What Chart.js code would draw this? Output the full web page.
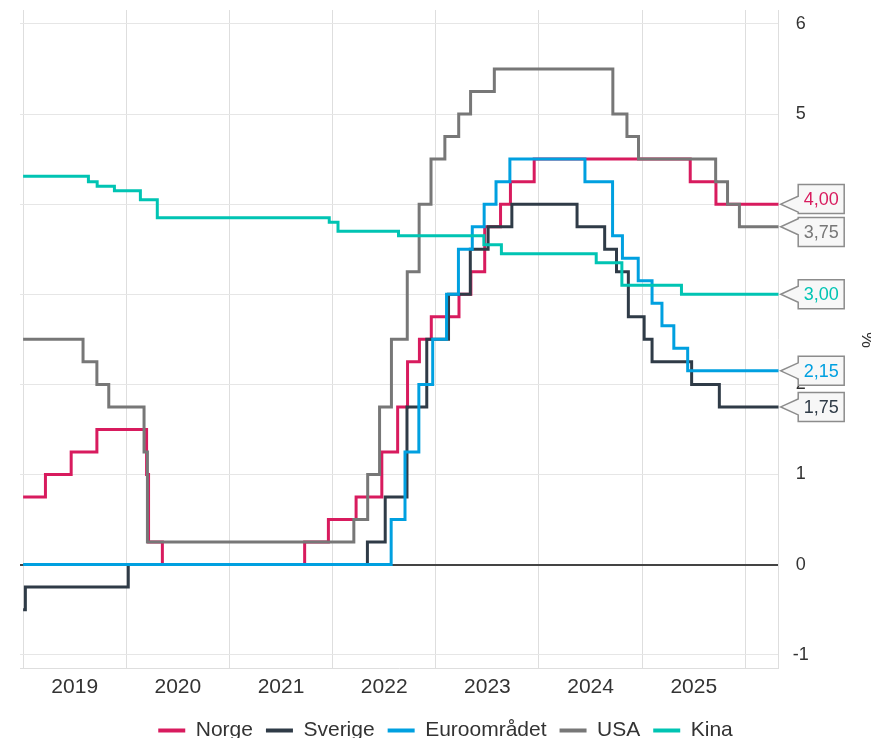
<!DOCTYPE html>
<html>
<head>
<meta charset="utf-8">
<script src="https://cdn.jsdelivr.net/npm/chart.js@4.4.1/dist/chart.umd.min.js"></script>
<style>
  html, body { margin: 0; padding: 0; background: #fff; }
  canvas { display: block; }
</style>
</head>
<body>
<canvas id="renter" width="871" height="738"></canvas>
<script>
// Styringsrenter – datoer for endringer og nivå etter endring
const chartStart = "2018-12-21";
const chartEnd = "2026-04-29";

const seriesNames = ["Norge", "Sverige", "Euroområdet", "USA", "Kina"];
const seriesColors = ["#d81b5e", "#2f3b47", "#00a0e0", "#777777", "#00c4b3"];

const norgeDates = ["2019-01-01", "2019-03-21", "2019-06-20", "2019-09-19", "2020-03-13", "2020-03-20", "2020-05-08",
    "2021-09-24", "2021-12-17", "2022-03-25", "2022-06-24", "2022-08-19", "2022-09-23", "2022-11-04", "2022-12-16",
    "2023-03-24", "2023-05-05", "2023-06-23", "2023-08-18", "2023-09-22", "2023-12-15", "2025-06-20", "2025-09-19"];
const norgeValues = [0.75, 1, 1.25, 1.5, 1, 0.25, 0, 0.25, 0.5, 0.75, 1.25, 1.75, 2.25, 2.5, 2.75,
    3, 3.25, 3.75, 4, 4.25, 4.5, 4.25, 4];

const sverigeDates = ["2019-01-01", "2019-01-09", "2020-01-08", "2022-05-04", "2022-07-06", "2022-09-21", "2022-11-30",
    "2023-02-15", "2023-05-03", "2023-07-05", "2023-09-27", "2024-05-15", "2024-08-21", "2024-10-02", "2024-11-13",
    "2025-01-08", "2025-02-05", "2025-06-25", "2025-10-01"];
const sverigeValues = [-0.5, -0.25, 0, 0.25, 0.75, 1.75, 2.5, 3, 3.5, 3.75, 4, 3.75, 3.5, 3.25, 2.75,
    2.5, 2.25, 2, 1.75];

const euroDates = ["2019-01-01", "2022-07-27", "2022-09-14", "2022-11-02", "2022-12-21", "2023-02-08", "2023-03-22",
    "2023-05-10", "2023-06-21", "2023-08-02", "2023-09-20", "2024-06-12", "2024-09-18", "2024-10-23", "2024-12-18",
    "2025-02-05", "2025-03-12", "2025-04-23", "2025-06-11"];
const euroValues = [0, 0.5, 1.25, 2, 2.5, 3, 3.5, 3.75, 4, 4.25, 4.5, 4.25, 3.65, 3.4, 3.15, 2.9, 2.65, 2.4, 2.15];

const usaDates = ["2019-01-01", "2019-08-01", "2019-09-19", "2019-10-31", "2020-03-04", "2020-03-16", "2022-03-17",
    "2022-05-05", "2022-06-16", "2022-07-28", "2022-09-22", "2022-11-03", "2022-12-15", "2023-02-02", "2023-03-23",
    "2023-05-04", "2023-07-27", "2024-09-19", "2024-11-08", "2024-12-19", "2025-09-18", "2025-10-30", "2025-12-11"];
const usaValues = [2.5, 2.25, 2, 1.75, 1.25, 0.25, 0.5, 1, 1.75, 2.5, 3.25, 4, 4.5, 4.75, 5,
    5.25, 5.5, 5, 4.75, 4.5, 4.25, 4, 3.75];

const kinaDates = ["2019-01-01", "2019-08-20", "2019-09-20", "2019-11-20", "2020-02-20", "2020-04-20", "2021-12-20",
    "2022-01-20", "2022-08-22", "2023-06-20", "2023-08-21", "2024-07-22", "2024-10-21", "2025-05-20"];
const kinaValues = [4.31, 4.25, 4.2, 4.15, 4.05, 3.85, 3.8, 3.7, 3.65, 3.55, 3.45, 3.35, 3.1, 3.0];

const xTickLabels = ["2019", "2020", "2021", "2022", "2023", "2024", "2025"];
const yTickValues = [-1, 0, 1, 2, 3, 4, 5, 6];

const FONT = '"Liberation Sans", Arial, sans-serif';
const TEXT = "#333333";

// dato -> desimalår
function toYear(s) {
    const [y, m, d] = s.split("-").map(Number);
    const t0 = Date.UTC(y, 0, 1);
    const t1 = Date.UTC(y + 1, 0, 1);
    return y + (Date.UTC(y, m - 1, d) - t0) / (t1 - t0);
}

function makePoints(dates, values) {
    const pts = dates.map((d, i) => ({ x: toYear(d), y: values[i] }));
    pts.push({ x: toYear(chartEnd), y: values[values.length - 1] });
    return pts;
}

const allDates = [norgeDates, sverigeDates, euroDates, usaDates, kinaDates];
const allValues = [norgeValues, sverigeValues, euroValues, usaValues, kinaValues];

const datasets = seriesNames.map((name, i) => ({
    label: name,
    data: makePoints(allDates[i], allValues[i]),
    borderColor: seriesColors[i],
    backgroundColor: seriesColors[i],
    borderWidth: 3,
    stepped: true,
    pointRadius: 0,
    order: seriesNames.length - i
}));

// === Etiketter med siste verdi til høyre ===
const lastValueTags = {
    id: "lastValueTags",
    afterDraw(chart) {
        const { ctx, chartArea, scales } = chart;
        const h = 29, w = 46, minGap = 33;
        const tags = chart.data.datasets.map(ds => {
            const v = ds.data[ds.data.length - 1].y;
            const tip = scales.y.getPixelForValue(v);
            return { v, color: ds.borderColor, tip, cy: tip };
        }).sort((a, b) => a.tip - b.tip);

        for (let k = 0; k < 10; k++) {
            for (let i = 1; i < tags.length; i++) {
                const d = tags[i].cy - tags[i - 1].cy;
                if (d < minGap) {
                    const s = (minGap - d) / 2;
                    tags[i - 1].cy -= s;
                    tags[i].cy += s;
                }
            }
        }

        const tipX = chartArea.right + 2;
        const bx = chartArea.right + 19.5;
        ctx.save();
        tags.forEach(t => {
            const top = t.cy - h / 2;
            const up = Math.max(top + 1, t.tip - 8);
            const low = Math.min(top + h - 1, t.tip + 8);
            ctx.beginPath();
            ctx.moveTo(bx, top);
            ctx.lineTo(bx + w, top);
            ctx.lineTo(bx + w, top + h);
            ctx.lineTo(bx, top + h);
            ctx.lineTo(bx, low);
            ctx.lineTo(tipX, t.tip);
            ctx.lineTo(bx, up);
            ctx.closePath();
            ctx.fillStyle = "#f7f7f7";
            ctx.fill();
            ctx.lineWidth = 1.5;
            ctx.strokeStyle = "#8c8c8c";
            ctx.stroke();

            ctx.fillStyle = t.color;
            ctx.font = "18px " + FONT;
            ctx.textAlign = "center";
            ctx.textBaseline = "middle";
            ctx.fillText(t.v.toFixed(2).replace(".", ","), bx + w / 2, t.cy + 1);
        });

        // enhet på høyre akse
        ctx.translate(867, 340);
        ctx.rotate(Math.PI / 2);
        ctx.fillStyle = TEXT;
        ctx.font = "18px " + FONT;
        ctx.textAlign = "center";
        ctx.textBaseline = "middle";
        ctx.fillText("%", 0, 0);
        ctx.restore();
    }
};

const ctx = document.getElementById("renter").getContext("2d");

const chart = new Chart(ctx, {
    type: "line",
    data: { datasets },
    options: {
        responsive: false,
        animation: false,
        devicePixelRatio: 1,
        layout: { padding: { left: 20, top: 10, right: 0, bottom: -13 } },
        plugins: {
            tooltip: { enabled: false },
            legend: {
                position: "bottom",
                labels: {
                    usePointStyle: true,
                    pointStyle: "line",
                    pointStyleWidth: 27,
                    padding: 13,
                    color: TEXT,
                    font: { size: 21, family: FONT },
                    sort: (a, b) => a.datasetIndex - b.datasetIndex,
                    generateLabels: c => Chart.defaults.plugins.legend.labels.generateLabels(c)
                        .map(l => ({ ...l, lineWidth: 4 }))
                }
            }
        },
        scales: {
            x: {
                type: "linear",
                min: toYear(chartStart),
                max: toYear(chartEnd),
                afterBuildTicks: scale => {
                    const t = [];
                    xTickLabels.forEach(y => {
                        t.push({ value: Number(y) });
                        t.push({ value: Number(y) + 0.5 });
                    });
                    t.push({ value: Number(xTickLabels[xTickLabels.length - 1]) + 1 });
                    scale.ticks = t;
                },
                afterFit: scale => {
                    scale.height = 38.8;
                    scale.paddingLeft = 0;
                    scale.paddingRight = 0;
                },
                ticks: {
                    autoSkip: false,
                    maxRotation: 0,
                    padding: 6,
                    color: TEXT,
                    font: { size: 21, family: FONT },
                    callback: v => (v % 1 === 0.5 ? String(v - 0.5) : "")
                },
                grid: {
                    drawTicks: false,
                    color: c => (c.tick && c.tick.value % 1 === 0 ? "#dedede" : "rgba(0,0,0,0)")
                },
                border: { color: "#dedede" }
            },
            y: {
                position: "right",
                min: -1.15,
                max: 6.155,
                afterBuildTicks: scale => {
                    scale.ticks = yTickValues.map(v => ({ value: v }));
                },
                afterFit: scale => {
                    scale.width = 92.3;
                    scale.paddingTop = 0;
                    scale.paddingBottom = 0;
                },
                ticks: {
                    padding: 14,
                    crossAlign: "center",
                    color: TEXT,
                    font: { size: 18, family: FONT }
                },
                grid: {
                    drawTicks: false,
                    color: c => (c.tick && c.tick.value === 0 ? "#444444" : "#e6e6e6"),
                    lineWidth: c => (c.tick && c.tick.value === 0 ? 2 : 1)
                },
                border: { color: "#dedede" }
            }
        }
    },
    plugins: [lastValueTags]
});
</script>
</body>
</html>
